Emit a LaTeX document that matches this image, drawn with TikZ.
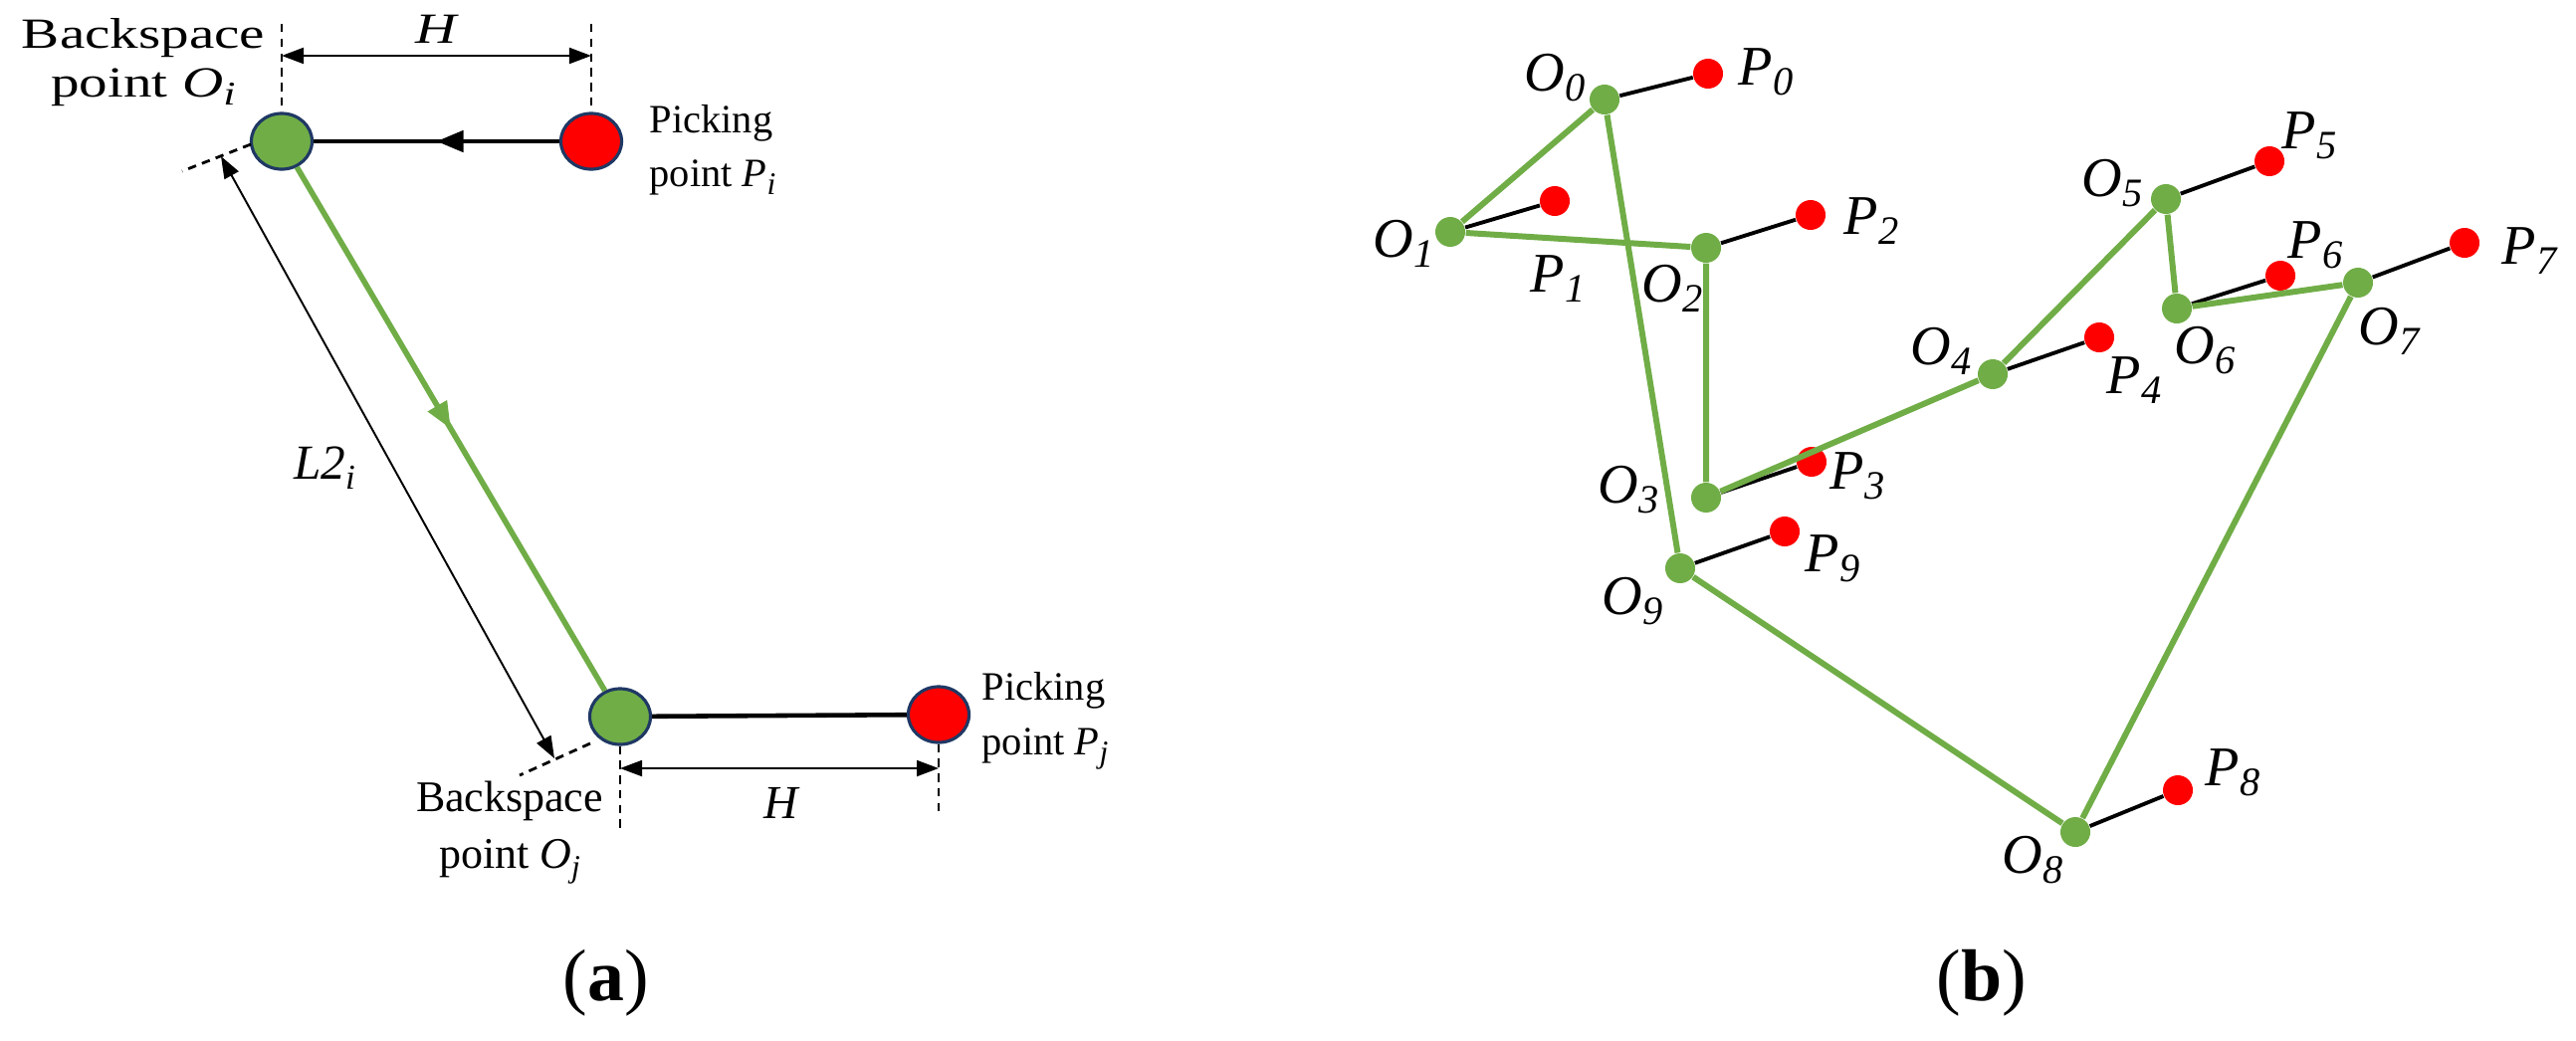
\documentclass[tikz,border=0pt]{standalone}
\usepackage{fontspec}
\setmainfont{Liberation Serif}
\usetikzlibrary{shapes.geometric,arrows.meta,decorations.markings}
\definecolor{ogreen}{HTML}{70AD47}
\definecolor{ored}{HTML}{FF0000}
\definecolor{oline}{HTML}{1F3864}
\newcommand{\widetxt}[1]{\scalebox{1.32}[1]{#1}}
\newcommand{\asub}[1]{\raisebox{-0.45ex}{\fontsize{9.5}{10}\selectfont\itshape #1}}
\newcommand{\bsub}[1]{\raisebox{-0.45ex}{\fontsize{9}{10}\selectfont\itshape #1}}
\newcommand{\blab}[2]{{\fontsize{16}{16}\selectfont\itshape #1\raisebox{-0.4ex}{\fontsize{11.5}{12}\selectfont #2}}}
\begin{document}
\begin{tikzpicture}[x=0.01cm,y=-0.01cm,
  bigG/.style={ellipse,draw=oline,line width=0.9pt,fill=ogreen,minimum width=0.61cm,minimum height=0.56cm,inner sep=0pt},
  bigR/.style={bigG,fill=ored},
  gpt/.style={circle,fill=ogreen,minimum size=0.3cm,inner sep=0pt},
  rpt/.style={circle,fill=ored,minimum size=0.3cm,inner sep=0pt},
  tour/.style={draw=ogreen,line width=1.7pt},
  link/.style={draw=black,line width=1.1pt},
  midarrow/.style={postaction={decorate},decoration={markings,mark=at position 0.5 with {\arrow{Triangle[length=0.27cm,width=0.21cm]}}}},
  dimline/.style={draw=black,line width=0.55pt,{Triangle[length=0.22cm,width=0.16cm]}-{Triangle[length=0.22cm,width=0.16cm]}},
  ext/.style={draw=black,line width=0.8pt,dash pattern=on 2.4pt off 1.8pt},
  wtext/.style={font=\fontsize{12.3}{14}\selectfont,inner sep=0pt},
  ntext/.style={font=\fontsize{12.5}{14}\selectfont,inner sep=0pt},
  ptext/.style={font=\fontsize{11.5}{14}\selectfont,inner sep=0pt},
  blabel/.style={inner sep=0pt}
]
\useasboundingbox (0,0) rectangle (2588,1045);
% ---------- panel (a) ----------
\node[bigG] (Oi) at (283,142) {};
\node[bigR] (Pi) at (594,142) {};
\node[bigG] (Oj) at (623,720) {};
\node[bigR] (Pj) at (943,718) {};
\draw[link,line width=1.3pt,color=black,midarrow] (Pi) -- (Oi);
\draw[link,line width=1.3pt,color=black] (Oj) -- (Pj);
\draw[tour,color=ogreen,line width=1.6pt,midarrow] (Oi) -- (Oj);
% top H
\coordinate (tiT) at (283,24);
\coordinate (tpT) at (594,24);
\draw[ext] (tiT) -- (Oi.north);
\draw[ext] (tpT) -- (Pi.north);
\coordinate (hiA) at (283,56);
\coordinate (hiB) at (594,56);
\draw[dimline] (hiA) -- (hiB);
\node[wtext,anchor=base] (Htop) at (438,43) {\widetxt{\itshape H}};
% bottom H
\coordinate (tjB) at (623,832);
\coordinate (tqB) at (943,818);
\draw[ext] (Oj.south) -- (tjB);
\draw[ext] (Pj.south) -- (tqB);
\coordinate (hjA) at (623,772);
\coordinate (hjB) at (943,772);
\draw[dimline] (hjA) -- (hjB);
\node[ntext,anchor=base,font=\fontsize{13.5}{14}\selectfont] (Hbot) at (785,822) {\itshape H};
% L2 dimension
\coordinate (e1a) at (252,145);
\coordinate (e1b) at (183,172);
\coordinate (e2a) at (593,747);
\coordinate (e2b) at (522,779);
\draw[ext] (e1a) -- (e1b);
\draw[ext] (e2a) -- (e2b);
\coordinate (l2a) at (222,157);
\coordinate (l2b) at (557,762);
\draw[dimline] (l2a) -- (l2b);
\node[inner sep=0pt] (L2) at (326,470) {\fontsize{14}{14}\selectfont\itshape L2\raisebox{-0.45ex}{\fontsize{10}{10}\selectfont i}};
% texts
\node[wtext,anchor=base] (bsi1) at (144,48) {\widetxt{Backspace}};
\node[wtext,anchor=base] (bsi2) at (144,97) {\widetxt{point \textit{O}\asub{i}}};
\node[ptext,anchor=base west] (pki1) at (652,133) {Picking};
\node[ptext,anchor=base west] (pki2) at (652,187) {point \textit{P}\bsub{i}};
\node[ntext,anchor=base] (bsj1) at (512,815) {Backspace};
\node[ntext,anchor=base] (bsj2) at (512,872) {point \textit{O}\bsub{j}};
\node[ptext,anchor=base west] (pkj1) at (986,703) {Picking};
\node[ptext,anchor=base west] (pkj2) at (986,758) {point \textit{P}\bsub{j}};
\node[inner sep=0pt] (capa) at (609,988) {\fontsize{21}{24}\selectfont(\textbf{a})};
% ---------- panel (b) ----------
\node[gpt] (O0) at (1612,100) {};
\node[gpt] (O1) at (1457,233) {};
\node[gpt] (O2) at (1714,249) {};
\node[gpt] (O3) at (1714,500) {};
\node[gpt] (O4) at (2002,376) {};
\node[gpt] (O5) at (2176,200) {};
\node[gpt] (O6) at (2187,310) {};
\node[gpt] (O7) at (2369,284) {};
\node[gpt] (O8) at (2085,836) {};
\node[gpt] (O9) at (1688,571) {};
\node[rpt] (P0) at (1716,74) {};
\node[rpt] (P1) at (1562,202) {};
\node[rpt] (P2) at (1819,216) {};
\node[rpt] (P3) at (1820,464) {};
\node[rpt] (P4) at (2109,339) {};
\node[rpt] (P5) at (2280,162) {};
\node[rpt] (P6) at (2291,277) {};
\node[rpt] (P7) at (2476,244) {};
\node[rpt] (P8) at (2188,794) {};
\node[rpt] (P9) at (1793,534) {};
\foreach \k in {0,...,9} {\draw[link] (O\k) -- (P\k);}
\draw[tour] (O0) -- (O1) -- (O2) -- (O3) -- (O4) -- (O5) -- (O6) -- (O7) -- (O8) -- (O9) -- (O0);
\node[blabel] (lO0) at (1562,78) {\blab{O}{0}};
\node[blabel] (lP0) at (1774,72) {\blab{P}{0}};
\node[blabel] (lO1) at (1410,245) {\blab{O}{1}};
\node[blabel] (lP1) at (1565,280) {\blab{P}{1}};
\node[blabel] (lO2) at (1680,290) {\blab{O}{2}};
\node[blabel] (lP2) at (1880,222) {\blab{P}{2}};
\node[blabel] (lO3) at (1636,492) {\blab{O}{3}};
\node[blabel] (lP3) at (1866,478) {\blab{P}{3}};
\node[blabel] (lO4) at (1950,353) {\blab{O}{4}};
\node[blabel] (lP4) at (2144,382) {\blab{P}{4}};
\node[blabel] (lO5) at (2122,184) {\blab{O}{5}};
\node[blabel] (lP5) at (2320,136) {\blab{P}{5}};
\node[blabel] (lO6) at (2215,352) {\blab{O}{6}};
\node[blabel] (lP6) at (2326,246) {\blab{P}{6}};
\node[blabel] (lO7) at (2400,333) {\blab{O}{7}};
\node[blabel] (lP7) at (2541,252) {\blab{P}{7}};
\node[blabel] (lO8) at (2042,864) {\blab{O}{8}};
\node[blabel] (lP8) at (2243,776) {\blab{P}{8}};
\node[blabel] (lO9) at (1640,604) {\blab{O}{9}};
\node[blabel] (lP9) at (1841,561) {\blab{P}{9}};
\node[inner sep=0pt] (capb) at (1991,988) {\fontsize{21}{24}\selectfont(\textbf{b})};
\end{tikzpicture}
\end{document}
